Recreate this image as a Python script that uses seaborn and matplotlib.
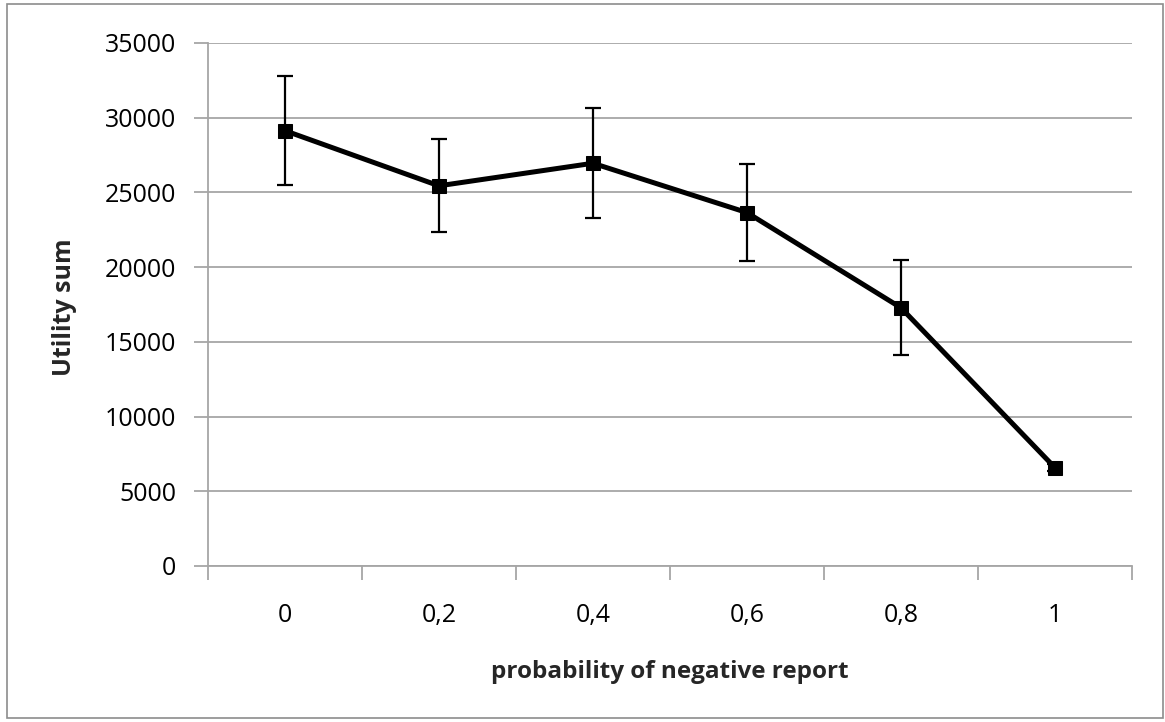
import matplotlib.pyplot as plt
import matplotlib.patches as patches
import pandas as pd
import seaborn as sns

# data
prob = ['0', '0,2', '0,4', '0,6', '0,8', '1']
utility = [29130, 25440, 26950, 23650, 17280, 6580]
err = [3650, 3120, 3690, 3220, 3180, 250]

df = pd.DataFrame({'prob': prob, 'utility': utility, 'err': err})

sns.set_style("white")
plt.rcParams['font.family'] = ['Open Sans', 'DejaVu Sans']

fig = plt.figure(figsize=(11.65, 7.22), dpi=100)
ax = fig.add_axes([0.1785, 0.2161, 0.7931, 0.7244])

ax.errorbar(df['prob'], df['utility'], yerr=df['err'], fmt='none',
            ecolor='black', elinewidth=1.6, capsize=5.5, capthick=1.6, zorder=3)
sns.lineplot(data=df, x='prob', y='utility', ax=ax, color='black', linewidth=3.6,
             marker='s', markersize=10, markeredgecolor='black', sort=False, zorder=4)

ax.set_ylim(0, 35000)
ax.set_xlim(-0.5, 5.5)
ax.set_yticks(range(0, 35001, 5000))
ax.yaxis.grid(True, color='#a6a6a6', linewidth=1.3)
ax.set_axisbelow(True)

# x ticks between categories, labels at the centres
ax.set_xticks([i + 0.5 for i in range(-1, 6)], minor=True)
ax.set_xticks(range(len(prob)))
ax.set_xticklabels(prob)
ax.tick_params(axis='x', which='major', length=0, pad=27, labelsize=18, colors='black')
ax.tick_params(axis='x', which='minor', length=10, width=1.3, color='#a6a6a6', bottom=True)
ax.tick_params(axis='y', length=10, width=1.3, color='#a6a6a6', labelcolor='black',
               labelsize=18, left=True, pad=13)

for s in ['top', 'right']:
    ax.spines[s].set_visible(False)
for s in ['left', 'bottom']:
    ax.spines[s].set_color('#a6a6a6')
    ax.spines[s].set_linewidth(1.3)

ax.set_xlabel('probability of negative report', fontsize=17.5, fontweight='bold')
ax.set_ylabel('Utility sum', fontsize=18, fontweight='bold')
ax.xaxis.set_label_coords(0.5, -0.18)
ax.yaxis.set_label_coords(-0.142, 0.494)

fig.patches.append(patches.Rectangle((7 / 1165, 4 / 722), 1156 / 1165, 714 / 722,
                                     transform=fig.transFigure, fill=False,
                                     edgecolor='#8c8c8c', linewidth=1.2))

plt.savefig('out.png', dpi=100)
